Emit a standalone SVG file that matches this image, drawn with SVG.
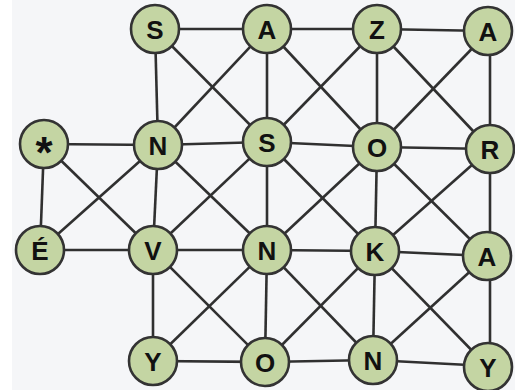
<svg xmlns="http://www.w3.org/2000/svg" width="515" height="390" viewBox="0 0 515 390">
<style>
.e{stroke:#303030;stroke-width:2.6;fill:none}
.n circle{fill:#c4d5a3;stroke:#333;stroke-width:2.6}
.n text{font-family:"Liberation Sans",Arial,sans-serif;font-weight:bold;font-size:26px;fill:#111;text-anchor:middle;dominant-baseline:central}
.n text.ast{font-size:44px;dominant-baseline:auto}
</style>
<rect width="515" height="390" fill="#f5f6f8"/>
<rect width="12" height="390" fill="#ffffff"/>
<g id="connectors">
<line class="e" x1="155" y1="29" x2="267" y2="29"/>
<line class="e" x1="267" y1="29" x2="377" y2="29"/>
<line class="e" x1="377" y1="29" x2="489" y2="31"/>
<line class="e" x1="44" y1="144" x2="158" y2="145"/>
<line class="e" x1="158" y1="145" x2="267" y2="142"/>
<line class="e" x1="267" y1="142" x2="377" y2="147"/>
<line class="e" x1="377" y1="147" x2="490" y2="149"/>
<line class="e" x1="40" y1="250" x2="153" y2="250"/>
<line class="e" x1="153" y1="250" x2="267" y2="250"/>
<line class="e" x1="267" y1="250" x2="375" y2="251"/>
<line class="e" x1="375" y1="251" x2="487" y2="256"/>
<line class="e" x1="153" y1="361" x2="265" y2="362"/>
<line class="e" x1="265" y1="362" x2="373" y2="360"/>
<line class="e" x1="373" y1="360" x2="488" y2="366"/>
<line class="e" x1="44" y1="144" x2="40" y2="250"/>
<line class="e" x1="155" y1="29" x2="158" y2="145"/>
<line class="e" x1="158" y1="145" x2="153" y2="250"/>
<line class="e" x1="153" y1="250" x2="153" y2="361"/>
<line class="e" x1="267" y1="29" x2="267" y2="142"/>
<line class="e" x1="267" y1="142" x2="267" y2="250"/>
<line class="e" x1="267" y1="250" x2="265" y2="362"/>
<line class="e" x1="377" y1="29" x2="377" y2="147"/>
<line class="e" x1="377" y1="147" x2="375" y2="251"/>
<line class="e" x1="375" y1="251" x2="373" y2="360"/>
<line class="e" x1="490" y1="31" x2="490" y2="149"/>
<line class="e" x1="490" y1="149" x2="490" y2="256"/>
<line class="e" x1="490" y1="256" x2="490" y2="366"/>
<line class="e" x1="44" y1="144" x2="153" y2="250"/>
<line class="e" x1="40" y1="250" x2="158" y2="145"/>
<line class="e" x1="155" y1="29" x2="267" y2="142"/>
<line class="e" x1="267" y1="29" x2="158" y2="145"/>
<line class="e" x1="267" y1="29" x2="377" y2="147"/>
<line class="e" x1="377" y1="29" x2="267" y2="142"/>
<line class="e" x1="377" y1="29" x2="490" y2="149"/>
<line class="e" x1="489" y1="31" x2="377" y2="147"/>
<line class="e" x1="158" y1="145" x2="267" y2="250"/>
<line class="e" x1="267" y1="142" x2="153" y2="250"/>
<line class="e" x1="267" y1="142" x2="375" y2="251"/>
<line class="e" x1="377" y1="147" x2="267" y2="250"/>
<line class="e" x1="377" y1="147" x2="487" y2="256"/>
<line class="e" x1="490" y1="149" x2="375" y2="251"/>
<line class="e" x1="153" y1="250" x2="265" y2="362"/>
<line class="e" x1="267" y1="250" x2="153" y2="361"/>
<line class="e" x1="267" y1="250" x2="373" y2="360"/>
<line class="e" x1="375" y1="251" x2="265" y2="362"/>
<line class="e" x1="375" y1="251" x2="488" y2="367"/>
<line class="e" x1="487" y1="256" x2="373" y2="360"/>
</g>
<g id="n1" class="n"><circle cx="155" cy="29" r="24"/><text x="155" y="30">S</text></g>
<g id="n2" class="n"><circle cx="267" cy="29" r="24"/><text x="267" y="30">A</text></g>
<g id="n3" class="n"><circle cx="377" cy="29" r="24"/><text x="377" y="30">Z</text></g>
<g id="n4" class="n"><circle cx="488" cy="31" r="24"/><text x="488" y="32">A</text></g>
<g id="n5" class="n"><circle cx="44" cy="144" r="24"/><text class="ast" x="44" y="168">*</text></g>
<g id="n6" class="n"><circle cx="158" cy="145" r="24"/><text x="158" y="146">N</text></g>
<g id="n7" class="n"><circle cx="267" cy="142" r="24"/><text x="267" y="143">S</text></g>
<g id="n8" class="n"><circle cx="377" cy="147" r="24"/><text x="377" y="148">O</text></g>
<g id="n9" class="n"><circle cx="490" cy="149" r="24"/><text x="490" y="150">R</text></g>
<g id="n10" class="n"><circle cx="40" cy="250" r="24"/><text x="40" y="251">É</text></g>
<g id="n11" class="n"><circle cx="153" cy="250" r="24"/><text x="153" y="251">V</text></g>
<g id="n12" class="n"><circle cx="267" cy="250" r="24"/><text x="267" y="251">N</text></g>
<g id="n13" class="n"><circle cx="375" cy="251" r="24"/><text x="375" y="252">K</text></g>
<g id="n14" class="n"><circle cx="487" cy="256" r="24"/><text x="487" y="257">A</text></g>
<g id="n15" class="n"><circle cx="153" cy="361" r="24"/><text x="153" y="362">Y</text></g>
<g id="n16" class="n"><circle cx="265" cy="362" r="24"/><text x="265" y="363">O</text></g>
<g id="n17" class="n"><circle cx="373" cy="360" r="24"/><text x="373" y="361">N</text></g>
<g id="n18" class="n"><circle cx="488" cy="367" r="24"/><text x="488" y="368">Y</text></g>
</svg>
